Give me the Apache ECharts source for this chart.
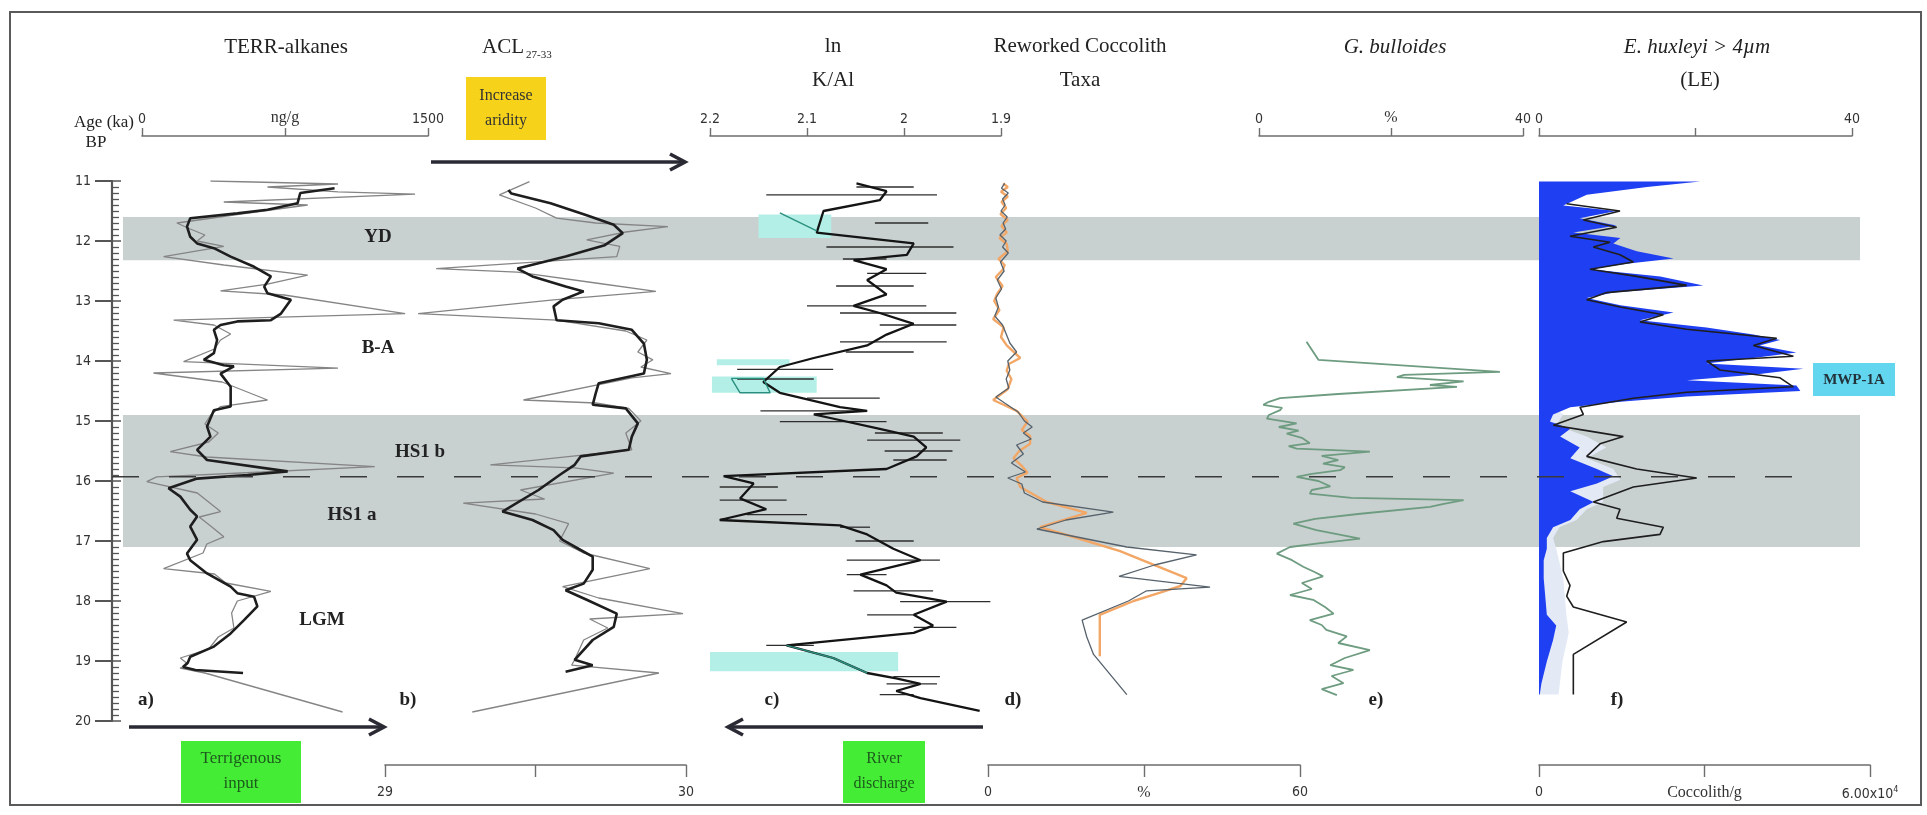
<!DOCTYPE html>
<html><head><meta charset="utf-8">
<script src="https://cdn.jsdelivr.net/npm/echarts/dist/echarts.min.js"></script>
<style>html,body{margin:0;padding:0;background:#fff;}#c{width:1927px;height:815px;}</style>
</head><body><div id="c"></div>
<script>
// ---------------- DATA ----------------
const ageTicks = [11, 12, 13, 14, 15, 16, 17, 18, 19, 20];
const bandStart = [11.6, 14.9];
const bandEnd = [12.32, 17.1];
const hs1Split = [15.93];

// a) TERR-alkanes (ng/g)
const terrRawAge = [11.0,11.05,11.1,11.18,11.22,11.35,11.4,11.55,11.7,11.8,11.9,12.0,12.09,12.26,12.4,12.57,12.72,12.83,12.9,13.21,13.32,13.4,13.55,13.65,13.8,14.01,14.12,14.2,14.35,14.65,14.76,14.9,15.05,15.2,15.35,15.51,15.6,15.76,15.85,15.93,16.01,16.2,16.51,16.6,16.75,16.93,17.05,17.2,17.46,17.55,17.7,17.84,18.0,18.2,18.45,18.6,18.8,18.95,19.05,19.12,19.2,19.85];
const terrRaw = [359,1028,658,1028,1432,429,869,518,183,253,330,289,429,113,429,869,658,412,746,1380,166,377,465,412,380,218,1028,60,420,658,412,360,330,400,350,148,340,1221,630,77,25,290,412,300,360,429,340,320,113,380,440,676,500,470,482,400,350,201,240,200,330,1052];
const terrSmAge = [11.12,11.2,11.37,11.48,11.54,11.62,11.76,11.93,12.04,12.12,12.26,12.43,12.59,12.76,12.87,12.98,13.21,13.32,13.34,13.4,13.48,13.65,13.87,13.98,14.07,14.09,14.21,14.43,14.76,14.82,15.09,15.26,15.48,15.65,15.84,15.9,15.96,16.12,16.26,16.48,16.59,16.76,16.98,17.21,17.32,17.54,17.76,17.87,17.93,18.09,18.32,18.54,18.76,18.93,19.03,19.1,19.15,19.2];
const terrSm = [1010,830,816,658,500,253,236,253,289,377,465,588,676,641,658,781,729,676,500,412,377,394,377,324,429,482,412,465,465,377,341,359,289,341,764,553,289,139,201,253,289,253,289,236,253,341,465,500,588,605,535,465,377,253,240,215,280,530];

// b) ACL 27-33
const aclRawAge = [11.01,11.23,11.45,11.62,11.7,11.76,11.85,11.98,12.09,12.26,12.46,12.52,12.7,12.84,12.98,13.21,13.32,13.5,13.65,13.85,13.98,14.1,14.21,14.28,14.65,14.7,14.79,15.0,15.2,15.48,15.73,15.78,15.87,16.15,16.3,16.37,16.55,16.71,17.0,17.2,17.46,17.76,17.95,18.21,18.3,18.45,18.65,18.98,19.07,19.2,19.85];
const aclRaw = [29.48,29.38,29.50,29.57,29.70,29.94,29.80,29.67,29.78,29.77,29.17,29.44,29.70,29.90,29.56,29.11,29.57,29.80,29.87,29.84,29.89,29.85,29.95,29.82,29.46,29.70,29.81,29.85,29.80,29.82,29.35,29.63,29.76,29.45,29.53,29.26,29.50,29.61,29.58,29.66,29.88,29.59,29.71,29.99,29.68,29.74,29.66,29.63,29.62,29.91,29.29];
const aclSmAge = [11.15,11.21,11.37,11.57,11.73,11.87,12.07,12.26,12.46,12.59,12.76,12.84,12.98,13.09,13.32,13.37,13.48,13.71,13.98,14.21,14.37,14.54,14.73,14.79,15.04,15.26,15.48,15.59,15.73,15.9,16.15,16.51,16.65,16.82,16.98,17.15,17.26,17.48,17.71,17.82,17.98,18.21,18.43,18.65,18.98,19.07,19.18];
const aclSm = [29.41,29.42,29.55,29.67,29.76,29.79,29.73,29.60,29.44,29.49,29.60,29.66,29.59,29.56,29.57,29.71,29.82,29.86,29.87,29.86,29.71,29.70,29.69,29.80,29.84,29.82,29.81,29.65,29.63,29.58,29.51,29.39,29.49,29.56,29.59,29.65,29.69,29.69,29.66,29.60,29.67,29.77,29.76,29.69,29.63,29.69,29.60];

// c) ln K/Al
const kalAge = [11.04,11.17,11.32,11.5,11.86,12.04,12.23,12.32,12.47,12.65,12.89,13.08,13.2,13.38,13.56,13.74,13.95,14.1,14.35,14.53,14.77,14.83,14.89,14.95,15.13,15.26,15.44,15.59,15.8,15.92,16.04,16.29,16.47,16.65,16.74,16.89,17.13,17.32,17.56,17.74,17.86,18.01,18.23,18.41,18.53,18.74,18.95,19.2,19.29,19.38,19.5,19.62,19.83];
const kal = [2.049,2.018,2.025,2.083,2.090,1.990,1.997,2.052,2.018,2.038,2.018,2.052,2.025,1.990,2.018,2.038,2.093,2.128,2.145,2.128,2.066,2.038,2.093,2.076,2.025,1.990,1.977,1.987,2.018,2.186,2.155,2.169,2.142,2.190,2.066,2.038,2.011,1.983,2.045,2.018,2.008,1.956,1.990,1.970,1.990,2.121,2.073,2.038,2.008,1.983,2.008,1.983,1.922];
const kalErrAge = [11.1,11.23,11.7,12.1,12.3,12.54,12.75,13.08,13.2,13.4,13.68,13.85,14.14,14.3,14.62,14.83,15.01,15.2,15.32,15.5,15.65,16.1,16.32,16.56,16.77,17.0,17.32,17.56,17.83,18.01,18.23,18.44,18.74,19.26,19.38,19.56];
const kalErrLo = [2.049,2.142,2.03,2.080,2.063,2.038,2.07,2.100,2.066,2.025,2.066,2.06,2.172,2.172,2.100,2.148,2.128,2.03,2.038,2.02,2.011,2.19,2.190,2.162,2.066,2.05,2.059,2.059,2.052,2.004,2.038,1.990,2.142,2.011,2.018,2.025];
const kalErrHi = [1.990,1.966,1.975,1.949,2.018,1.977,1.99,1.977,1.946,1.946,1.956,1.99,2.073,2.093,2.025,2.038,2.018,1.96,1.942,1.95,1.956,2.13,2.121,2.100,2.035,1.99,1.963,2.018,1.970,1.911,1.990,1.946,2.093,1.963,1.966,1.990];
const kalGapStart = [11.56, 13.97, 14.26, 18.85];
const kalGapEnd = [11.95, 14.07, 14.53, 19.17];
const kalGapLo = [2.15, 2.193, 2.198, 2.2];
const kalGapHi = [2.075, 2.118, 2.09, 2.006];
const kalTealAge = [[11.53, 11.83], [14.29, 14.53, 14.53, 14.29, 14.29], [18.74, 18.95, 19.2]];
const kalTeal = [[2.128, 2.09], [2.178, 2.169, 2.138, 2.145, 2.178], [2.121, 2.073, 2.038]];

// d) Reworked coccolith taxa (%)
const rwOrAge = [11.04,11.1,11.18,11.26,11.35,11.45,11.55,11.65,11.75,11.86,11.95,12.05,12.17,12.3,12.4,12.47,12.6,12.75,12.89,13.0,13.15,13.3,13.44,13.6,13.74,13.95,14.05,14.16,14.3,14.47,14.65,14.75,14.83,15.01,15.15,15.25,15.38,15.5,15.62,15.75,15.86,15.95,16.1,16.35,16.53,16.77,16.95,17.17,17.44,17.62,17.75,17.86,18.0,18.23,18.5,18.92];
const rwOr = [2.9,3.8,2.5,3.8,2.6,3.5,2.4,3.8,2.6,3.6,2.2,3.6,3.8,2.0,3.2,2.9,1.5,2.8,1.7,1.2,2.2,1.0,3.0,2.5,3.6,6.2,4.0,3.6,4.5,3.8,1.0,3.5,5.5,7.6,6.5,8.1,8.1,6.0,4.9,6.5,7.6,5.5,6.2,11.3,19.0,10.0,17.1,25.4,33.1,38.2,37.0,33.1,28,21.5,21.5,21.5];
const rwGrAge = [11.04,11.12,11.2,11.3,11.4,11.5,11.6,11.7,11.8,11.9,12.0,12.1,12.2,12.35,12.5,12.65,12.8,12.95,13.1,13.25,13.4,13.55,13.7,13.85,14.0,14.15,14.3,14.45,14.6,14.7,14.85,15.0,15.1,15.2,15.3,15.4,15.55,15.7,15.85,15.95,16.05,16.2,16.35,16.52,16.65,16.8,17.1,17.23,17.4,17.59,17.77,17.83,18.0,18.32,18.6,18.89,19.56];
const rwGr = [3.2,2.6,3.9,2.8,3.3,2.5,3.7,2.9,3.4,2.3,3.5,2.8,3.9,2.4,3.1,1.8,2.6,1.5,2.0,1.3,2.8,3.5,4.2,5.5,3.8,4.2,3.5,4.0,1.5,3.2,5.8,7.0,8.5,6.8,8.3,5.5,6.8,4.5,7.2,3.8,6.5,7.0,10.5,24.1,15.0,9.4,26.7,40.1,32.0,25.2,42.7,30.5,27.0,18.1,19.0,20.3,26.7];

// e) G. bulloides (%)
const gbAge = [13.68,13.98,14.18,14.23,14.27,14.34,14.4,14.43,14.55,14.62,14.68,14.73,14.78,14.82,14.9,14.96,15.04,15.1,15.16,15.21,15.28,15.37,15.42,15.46,15.51,15.58,15.65,15.71,15.77,15.82,15.88,15.93,16.0,16.09,16.15,16.21,16.28,16.32,16.38,16.43,16.55,16.63,16.71,16.82,16.96,17.04,17.1,17.21,17.32,17.43,17.52,17.59,17.7,17.8,17.9,17.98,18.1,18.21,18.32,18.4,18.48,18.59,18.7,18.82,18.95,19.07,19.15,19.25,19.37,19.47,19.57];
const gb = [7.2,9.0,36.5,22,20.9,31.0,25.9,30.0,12,3.2,1.5,0.65,3.5,3.2,1.5,1.2,5.7,3.0,6.0,4.2,6.5,7.7,4.5,5.7,16.8,9.5,12.0,9.7,13.0,12.3,8.0,5.7,9.0,10.8,8.0,7.7,14.0,31.0,28.0,25.9,15.0,8.5,5.2,8.7,15.3,9.0,4.7,2.7,5.0,6.7,8.5,9.7,6.5,8.0,4.7,8.2,10.0,11.3,7.7,9.5,10.2,13.3,12.0,16.8,13.0,10.8,14.3,11.0,12.8,9.5,11.8];

// f) E. huxleyi > 4 um (LE, %), light envelope (%) and coccoliths/g
const ehAge = [11.01,11.1,11.23,11.41,11.5,11.62,11.74,11.86,11.95,12.04,12.17,12.29,12.38,12.47,12.59,12.74,12.86,12.95,13.07,13.19,13.32,13.44,13.56,13.65,13.74,13.86,13.95,14.04,14.13,14.23,14.32,14.41,14.5,14.59,14.68,14.77,14.89,15.01,15.13,15.26,15.44,15.62,15.8,15.92,16.04,16.17,16.35,16.47,16.65,16.77,16.95,17.13,17.32,17.62,18.23,18.41,18.65,19.01,19.38,19.56];
const eh = [20.6,13.8,6.1,3.1,9.9,5.2,9.9,4.4,10.4,9.5,12.5,17.2,11.2,6.5,15.5,21.0,9.5,6.1,10.4,17.2,12.9,21.4,27.4,30.8,28.2,32.9,27.4,21.4,33.8,27.4,18.9,32.9,33.4,18.9,10.4,4.0,1.8,1.4,4.0,2.7,5.2,4.0,7.4,9.5,7.4,4.0,7.0,5.2,4.0,1.8,1.0,1.0,0.6,0.6,1.0,2.2,1.8,1.0,0.3,0.1];
const ehLightAge = [14.7,14.89,15.07,15.26,15.44,15.62,15.8,15.98,16.1,16.35,16.47,16.65,16.77,16.95,17.13,17.62,18.23,18.53,19.01,19.56];
const ehLight = [1.0,3.1,2.2,6.1,8.6,6.1,9.5,10.4,8.2,8.2,6.1,4.8,2.6,1.8,2.2,3.1,3.5,3.8,3.0,2.5];
const coccAge = [11.38,11.5,11.65,11.77,11.92,12.02,12.1,12.23,12.35,12.47,12.59,12.74,12.86,12.98,13.1,13.23,13.35,13.47,13.62,13.74,13.92,14.0,14.15,14.28,14.43,14.52,14.62,14.77,14.89,15.07,15.16,15.26,15.38,15.59,15.8,15.95,16.1,16.35,16.47,16.62,16.77,16.89,17.01,17.2,17.5,17.74,17.92,18.1,18.35,18.89,19.56];
const cocc = [5016,14685,8037,14080,5620,12870,9850,14685,17102,9246,17706,26772,12267,8641,14685,22541,18310,26772,43088,38857,46111,30399,32815,43693,46111,26772,17102,7433,8037,2598,8641,15289,11060,8641,17706,28586,17102,9850,14685,14080,22541,21937,11663,4411,4411,5620,5016,6225,15893,6225,6225];

// ---------------- LAYOUT ----------------
const TOP = 181, H = 540;
const SERIF = "'Liberation Serif','DejaVu Serif',serif";
const NARROW = "'Liberation Sans Narrow','DejaVu Sans Condensed','Liberation Sans',sans-serif";
const grids = [
  {left:112, width:2},    // 0 age axis
  {left:112, width:1748}, // 1 overlay (bands, dashed line)
  {left:142, width:286},  // 2 a
  {left:385, width:301},  // 3 b
  {left:710, width:291},  // 4 c
  {left:988, width:312},  // 5 d
  {left:1259, width:264}, // 6 e
  {left:1539, width:313}, // 7 f top (%)
  {left:1539, width:331}  // 8 f bottom (coccolith/g)
].map(g => Object.assign({top:TOP, height:H}, g));
const BAND_X0 = (123 - 112) / 1748;
const DASH_X1 = (1817 - 112) / 1748;

const AX = '#6e6e6e';
function xAx(grid, pos, min, max, interval, fmt, extra) {
  return Object.assign({
    gridIndex: grid, type: 'value', position: pos, offset: pos === 'top' ? 45 : 44,
    min, max, interval,
    axisLine: {show: true, onZero: false, lineStyle: {color: AX, width: 1.6}},
    axisTick: {show: true, length: pos === 'top' ? 8 : 12, lineStyle: {color: AX, width: 1.4}},
    axisLabel: {show: true, formatter: fmt, margin: pos === 'top' ? 10 : 20, color: '#333',
      fontFamily: NARROW, fontSize: 14, showMinLabel: true, showMaxLabel: true,
      rich: {u: {fontFamily: SERIF, fontSize: 16, color: '#333'}, sup: {fontFamily: NARROW, fontSize: 9, color: '#333', verticalAlign: 'top', padding: [0, 0, 10, 0]}}},
    splitLine: {show: false}
  }, extra || {});
}
const hiddenX = g => ({gridIndex: g, type: 'value', min: 0, max: 1, show: false});
const xAxis = [
  hiddenX(0), hiddenX(1),
  xAx(2, 'top', 0, 1500, 750, v => v === 0 ? '0' : v === 1500 ? '1500' : '{u|ng/g}'),
  xAx(3, 'bottom', 29, 30, 0.5, v => v === 29 ? '29' : v === 30 ? '30' : ''),
  xAx(4, 'top', 1.9, 2.2, 0.1, v => String(Math.round(v * 10) / 10), {inverse: true}),
  xAx(5, 'bottom', 0, 60, 30, v => v === 0 ? '0' : v === 60 ? '60' : '{u|%}'),
  xAx(6, 'top', 0, 40, 20, v => v === 0 ? '0' : v === 40 ? '40' : '{u|%}'),
  xAx(7, 'top', 0, 40, 20, v => v === 0 ? '0' : v === 40 ? '40' : ''),
  xAx(8, 'bottom', 0, 60000, 30000, v => v === 0 ? '0' : v === 60000 ? '6.00x10{sup|4}' : '{u|Coccolith/g}')
];
const yAxis = [{
  gridIndex: 0, type: 'value', min: ageTicks[0], max: ageTicks[ageTicks.length - 1], interval: 1, inverse: true, position: 'left',
  axisLine: {show: true, lineStyle: {color: '#555', width: 2.2}},
  axisTick: {show: true, length: 17, lineStyle: {color: '#555', width: 2}},
  axisLabel: {color: '#333', fontFamily: NARROW, fontSize: 14, margin: 21},
  splitLine: {show: false}
}];
for (let g = 1; g <= 8; g++) yAxis.push({gridIndex: g, type: 'value', min: 11, max: 20, inverse: true, show: false});
yAxis.push({
  gridIndex: 0, type: 'value', min: 11, max: 20, interval: 1, inverse: true, position: 'left',
  axisLine: {show: false},
  axisTick: {show: true, inside: true, length: 9, lineStyle: {color: '#555', width: 1.5}},
  minorTick: {show: true, splitNumber: 10, length: 7, lineStyle: {color: '#555', width: 1.3}},
  axisLabel: {show: false}, splitLine: {show: false}
});

// ---------------- SERIES ----------------
const zip = (vals, ages) => vals.map((v, i) => [v, ages[i]]);
function lineS(g, vals, ages, color, width, z) {
  return {type: 'line', xAxisIndex: g, yAxisIndex: g, data: zip(vals, ages), showSymbol: false, symbol: 'none',
    lineStyle: {color, width}, z, silent: true, animation: false};
}
function polyS(g, vals, ages, color, z) {
  return {type: 'custom', xAxisIndex: g, yAxisIndex: g, z, silent: true, data: [[0, ages[0]]],
    renderItem: (p, api) => {
      const pts = [api.coord([0, ages[0]])];
      vals.forEach((v, i) => pts.push(api.coord([v, ages[i]])));
      pts.push(api.coord([0, ages[ages.length - 1]]));
      return {type: 'polygon', shape: {points: pts}, style: {fill: color}};
    }};
}
function rectS(g, data, color, z) {
  return {type: 'custom', xAxisIndex: g, yAxisIndex: g, z, silent: true, data, encode: {x: [0, 2], y: [1, 3]},
    renderItem: (p, api) => {
      const a = api.coord([api.value(0), api.value(1)]), b = api.coord([api.value(2), api.value(3)]);
      return {type: 'rect', shape: {x: Math.min(a[0], b[0]), y: a[1], width: Math.abs(b[0] - a[0]), height: b[1] - a[1]}, style: {fill: color}};
    }};
}
const series = [];
series.push(rectS(1, bandStart.map((s, i) => [BAND_X0, s, 1, bandEnd[i]]), '#c9d0d0', 1));
series.push({type: 'custom', xAxisIndex: 1, yAxisIndex: 1, z: 6, silent: true,
  data: hs1Split.map(a => [0, a]),
  renderItem: (p, api) => {
    const a = api.coord([0, api.value(1)]), b = api.coord([DASH_X1, api.value(1)]);
    return {type: 'line', shape: {x1: a[0], y1: a[1], x2: b[0], y2: b[1]}, style: {stroke: '#3a3a3a', lineWidth: 1.6, lineDash: [27, 30]}};
  }});
// a
series.push(lineS(2, terrRaw, terrRawAge, '#858585', 1.3, 4));
series.push(lineS(2, terrSm, terrSmAge, '#1e1e1e', 2.6, 5));
// b
series.push(lineS(3, aclRaw, aclRawAge, '#858585', 1.3, 4));
series.push(lineS(3, aclSm, aclSmAge, '#1e1e1e', 2.6, 5));
// c
series.push(rectS(4, kalGapStart.map((s, i) => [kalGapLo[i], s, kalGapHi[i], kalGapEnd[i]]), '#b3efe6', 2));
series.push({type: 'custom', xAxisIndex: 4, yAxisIndex: 4, z: 4, silent: true,
  data: kalErrAge.map((a, i) => [kalErrLo[i], a, kalErrHi[i]]), encode: {x: [0, 2], y: 1},
  renderItem: (p, api) => {
    const a = api.coord([api.value(0), api.value(1)]), b = api.coord([api.value(2), api.value(1)]);
    return {type: 'line', shape: {x1: a[0], y1: a[1], x2: b[0], y2: b[1]}, style: {stroke: '#2e2e2e', lineWidth: 1.3}};
  }});
series.push(lineS(4, kal, kalAge, '#141414', 2.3, 5));
kalTeal.forEach((v, i) => series.push(lineS(4, v, kalTealAge[i], '#2b8f80', 1.4, 6)));
// d
series.push(lineS(5, rwOr, rwOrAge, '#f3a766', 2.4, 4));
series.push(lineS(5, rwGr, rwGrAge, '#56626c', 1.3, 5));
// e
series.push(lineS(6, gb, gbAge, '#6e9c80', 1.8, 5));
// f
series.push(polyS(7, ehLight, ehLightAge, '#e4e9f6', 2));
series.push(polyS(7, eh, ehAge, '#1f3ff2', 3));
series.push(lineS(8, cocc, coccAge, '#1e1e1e', 1.6, 5));

// ---------------- ANNOTATIONS ----------------
function txt(x, y, text, o) {
  o = o || {};
  return {type: 'text', x, y, z: 20, silent: true, style: {
    text, fill: o.fill || '#222', font: o.font || ('21px ' + SERIF),
    textAlign: o.align || 'center', textVerticalAlign: 'middle', align: o.align || 'center', verticalAlign: 'middle'}};
}
function arrow(x1, x2, y) {
  const d = Math.sign(x2 - x1);
  return [
    {type: 'line', z: 20, shape: {x1, y1: y, x2: x2 - d * 2, y2: y}, style: {stroke: '#2a2a35', lineWidth: 3.6}},
    {type: 'polyline', z: 20, shape: {points: [[x2 - d * 15, y - 8], [x2, y], [x2 - d * 15, y + 8]]}, style: {stroke: '#2a2a35', lineWidth: 3.6, fill: null}}
  ];
}
function box(x, y, w, h, fill) { return {type: 'rect', z: 19, shape: {x, y, width: w, height: h}, style: {fill}}; }
const periodFont = 'bold 19px ' + SERIF;
const boxFont = '17px ' + SERIF;
const graphic = [
  {type: 'rect', z: 30, shape: {x: 10, y: 12, width: 1911, height: 793}, style: {fill: null, stroke: '#5a5a5a', lineWidth: 2}},
  txt(286, 47, 'TERR-alkanes'),
  txt(503, 47, 'ACL'),
  txt(526, 55, '27-33', {font: '11px ' + SERIF, align: 'left'}),
  txt(833, 46, 'ln'),
  txt(833, 80, 'K/Al'),
  txt(1080, 46, 'Reworked Coccolith'),
  txt(1080, 80, 'Taxa'),
  txt(1395, 47, 'G. bulloides', {font: 'italic 21px ' + SERIF}),
  txt(1697, 47, 'E. huxleyi > 4\u00b5m', {font: 'italic 21px ' + SERIF}),
  txt(1700, 80, '(LE)'),
  txt(134, 123, 'Age (ka)', {font: '17px ' + SERIF, align: 'right'}),
  txt(96, 143, 'BP', {font: '17px ' + SERIF}),
  box(466, 77, 80, 63, '#f6d21a'),
  txt(506, 96, 'Increase', {font: '16px ' + SERIF, fill: '#333'}),
  txt(506, 121, 'aridity', {font: '16px ' + SERIF, fill: '#333'}),
  box(181, 741, 120, 62, '#45ec35'),
  txt(241, 759, 'Terrigenous', {font: boxFont, fill: '#1d5a1d'}),
  txt(241, 784, 'input', {font: boxFont, fill: '#1d5a1d'}),
  box(843, 741, 82, 62, '#45ec35'),
  txt(884, 759, 'River', {font: '16px ' + SERIF, fill: '#1d5a1d'}),
  txt(884, 784, 'discharge', {font: '16px ' + SERIF, fill: '#1d5a1d'}),
  box(1813, 363, 82, 33, '#63d6ef'),
  txt(1854, 380, 'MWP-1A', {font: 'bold 15px ' + SERIF, fill: '#22323a'}),
  txt(378, 237, 'YD', {font: periodFont}),
  txt(378, 348, 'B-A', {font: periodFont}),
  txt(420, 452, 'HS1 b', {font: periodFont}),
  txt(352, 515, 'HS1 a', {font: periodFont}),
  txt(322, 620, 'LGM', {font: periodFont}),
  txt(146, 700, 'a)', {font: 'bold 19px ' + SERIF}),
  txt(408, 700, 'b)', {font: 'bold 19px ' + SERIF}),
  txt(772, 700, 'c)', {font: 'bold 19px ' + SERIF}),
  txt(1013, 700, 'd)', {font: 'bold 19px ' + SERIF}),
  txt(1376, 700, 'e)', {font: 'bold 19px ' + SERIF}),
  txt(1617, 700, 'f)', {font: 'bold 19px ' + SERIF})
].concat(arrow(431, 685, 162), arrow(129, 384, 727), arrow(983, 728, 727));

const chart = echarts.init(document.getElementById('c'), null, {renderer: 'canvas'});
chart.setOption({animation: false, backgroundColor: '#fff', grid: grids, xAxis, yAxis, series, graphic});
</script></body></html>
